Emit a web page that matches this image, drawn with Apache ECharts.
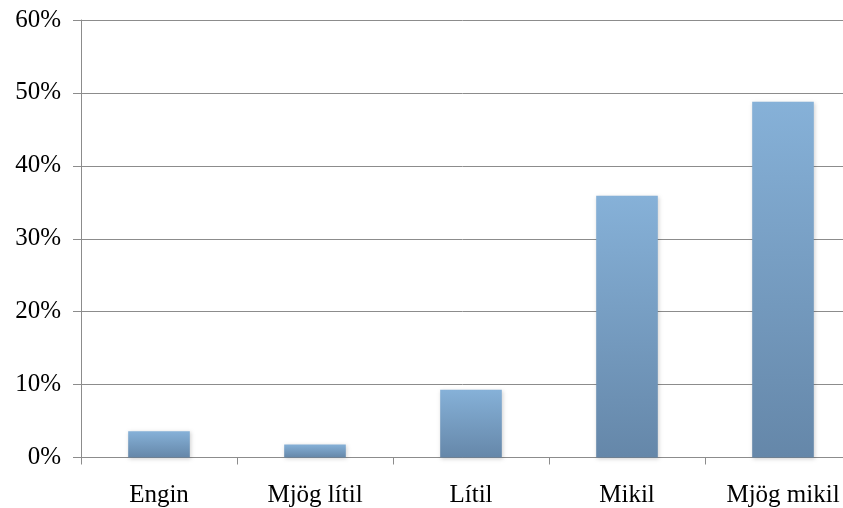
<!DOCTYPE html>
<html>
<head>
<meta charset="utf-8">
<style>
  html, body { margin: 0; padding: 0; background: #fff; }
  #chart { width: 843px; height: 508px; }
</style>
<script src="https://cdn.jsdelivr.net/npm/echarts@6/dist/echarts.min.js"></script>
</head>
<body>
<div id="chart"></div>
<script>
// Share of responses per answer option (percent)
const categories = ['Engin', 'Mjög lítil', 'Lítil', 'Mikil', 'Mjög mikil'];
const shares = [3.6, 1.8, 9.3, 35.9, 48.8];
const yTicks = [0, 10, 20, 30, 40, 50, 60];

const chart = echarts.init(document.getElementById('chart'));
const font = '"Liberation Serif", "Times New Roman", serif';
const axisGray = '#8c8c8c';

chart.setOption({
  animation: false,
  backgroundColor: '#ffffff',
  // the plot runs past the right edge of the canvas, so the last column is clipped
  grid: { left: 81, top: 20, width: 780, height: 437.5, outerBoundsMode: 'none', containLabel: false },
  xAxis: {
    type: 'category',
    data: categories,
    boundaryGap: true,
    axisLine: { show: true, lineStyle: { color: axisGray, width: 1 } },
    axisTick: { show: true, length: 7, alignWithLabel: false, lineStyle: { color: axisGray } },
    axisLabel: { color: '#000', fontFamily: font, fontSize: 25, margin: 25, interval: 0, hideOverlap: false },
    splitLine: { show: false }
  },
  yAxis: {
    type: 'value',
    min: yTicks[0],
    max: yTicks[yTicks.length - 1],
    interval: 10,
    axisLine: { show: true, lineStyle: { color: axisGray, width: 1 } },
    axisTick: { show: true, length: 8, lineStyle: { color: axisGray } },
    axisLabel: {
      color: '#000', fontFamily: font, fontSize: 25, margin: 20,
      formatter: v => v + '%'
    },
    splitLine: { show: true, lineStyle: { color: axisGray, width: 1 } }
  },
  series: [{
    type: 'bar',
    data: shares,
    barWidth: '39.5%',
    itemStyle: {
      color: new echarts.graphic.LinearGradient(0, 0, 0, 1, [
        { offset: 0, color: '#86b1d8' },
        { offset: 1, color: '#6587a9' }
      ]),
      shadowColor: 'rgba(0,0,0,0.18)',
      shadowBlur: 4,
      shadowOffsetX: 1,
      shadowOffsetY: 1
    }
  }]
});
</script>
</body>
</html>
